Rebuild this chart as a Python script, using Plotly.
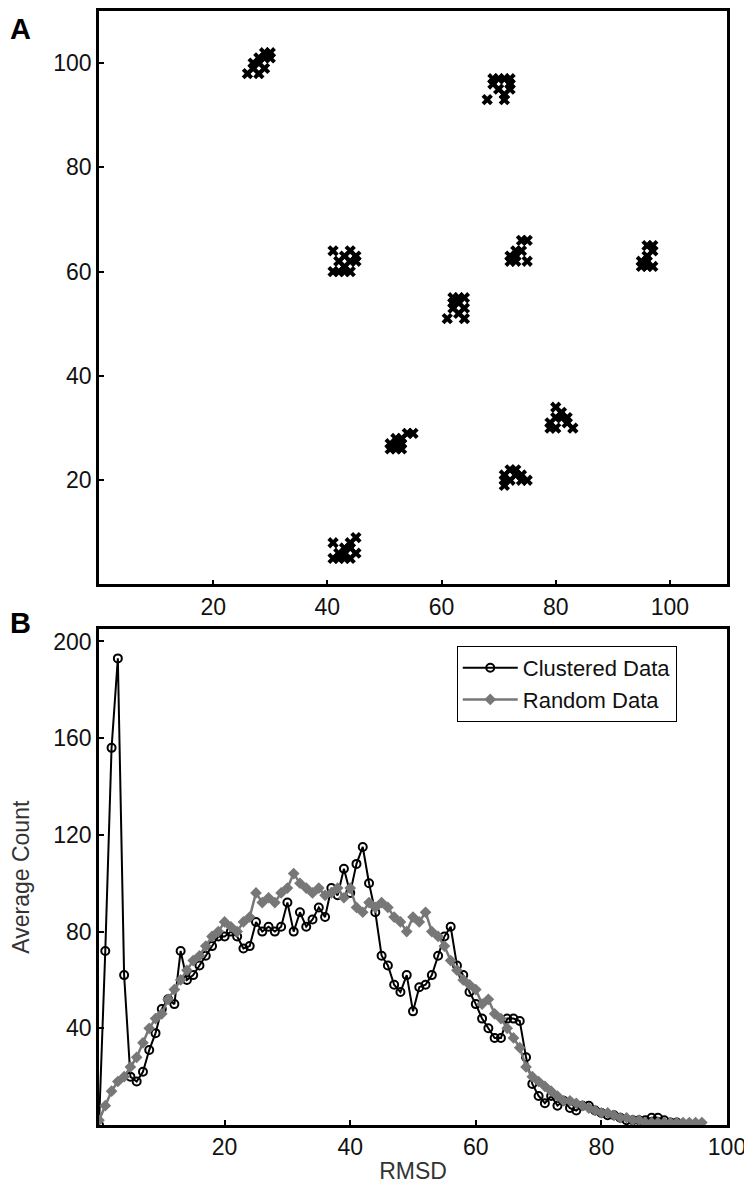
import plotly.graph_objects as go

# ---------------- Panel A data: clustered points ----------------
cluster_x = [
    26, 27, 28, 28, 29, 28, 29, 30, 29, 27, 30,
    68, 69, 70, 71, 72, 70, 71, 72, 69, 71, 72,
    41, 41, 42, 43, 43, 44, 44, 45, 45, 42, 44, 43,
    72, 72, 73, 73, 74, 75, 75, 73, 74,
    95, 96, 96, 97, 96, 97, 96, 97, 95,
    61, 62, 62, 63, 63, 64, 64, 64, 63, 62,
    79, 79, 80, 80, 81, 81, 82, 83, 80, 82,
    51, 51, 52, 52, 53, 53, 54, 55, 53, 52,
    71, 71, 72, 72, 73, 74, 74, 75, 73, 71,
    41, 41, 42, 42, 43, 43, 44, 44, 45, 45, 44, 43,
]
cluster_y = [
    98, 99, 98, 100, 101, 101, 102, 102, 99, 100, 101,
    93, 96, 97, 97, 96, 95, 94, 97, 97, 93, 95,
    64, 60, 60, 61, 63, 62, 64, 63, 62, 62, 60, 60,
    62, 63, 64, 62, 66, 66, 62, 63, 64,
    61, 61, 62, 65, 65, 64, 63, 61, 62,
    51, 54, 55, 55, 54, 55, 53, 51, 52, 53,
    30, 31, 32, 34, 32, 33, 31, 30, 30, 32,
    26, 27, 28, 26, 26, 28, 29, 29, 27, 27,
    19, 21, 22, 20, 21, 20, 21, 20, 22, 20,
    5, 8, 6, 5, 7, 6, 7, 8, 9, 6, 5, 5,
]

# ---------------- Panel B data ----------------
clustered_x = list(range(0, 93))
clustered_y = [
    0, 72, 156, 193, 62, 20, 18, 22, 31, 38,
    48, 52, 50, 72, 60, 62, 66, 70, 74, 78,
    78, 80, 78, 73, 74, 84, 80, 82, 80, 82,
    92, 80, 88, 82, 85, 90, 86, 98, 95, 106,
    96, 108, 115, 100, 88, 70, 66, 58, 55, 62,
    47, 57, 58, 62, 70, 78, 82, 66, 62, 55,
    50, 44, 40, 36, 36, 44, 44, 43, 28, 17,
    12, 9, 12, 8, 10, 7, 6, 8, 8, 6,
    5, 4, 4, 3, 2, 2, 2, 2, 3, 3,
    2, 1, 1,
]
random_x = list(range(0, 97))
random_y = [
    2, 8, 14, 18, 20, 24, 28, 34, 40, 44,
    46, 52, 56, 60, 64, 68, 70, 74, 78, 80,
    84, 82, 80, 84, 86, 96, 92, 94, 92, 96,
    98, 104, 100, 98, 96, 98, 95, 96, 98, 94,
    98, 90, 88, 92, 90, 92, 90, 86, 84, 80,
    86, 84, 88, 80, 78, 74, 68, 64, 60, 58,
    56, 50, 52, 46, 44, 40, 36, 32, 24, 20,
    18, 16, 14, 12, 10, 10, 9, 8, 7, 6,
    5, 5, 4, 3, 3, 2, 2, 1, 1, 1,
    1, 1, 1, 1, 1, 1, 1,
]

tickvals_a = [20, 40, 60, 80, 100]
tickvals_bx = [20, 40, 60, 80, 100]
tickvals_by = [40, 80, 120, 160, 200]

FONT = "Liberation Sans, Arial, sans-serif"

fig = go.Figure()

fig.add_trace(go.Scatter(
    x=cluster_x, y=cluster_y, mode="markers",
    marker=dict(symbol="x", size=10, color="black", line=dict(width=0)),
    xaxis="x", yaxis="y", showlegend=False,
))

fig.add_trace(go.Scatter(
    x=clustered_x, y=clustered_y, mode="lines+markers", name="Clustered Data",
    line=dict(color="black", width=2),
    marker=dict(symbol="circle-open", size=8, color="black", line=dict(width=2)),
    xaxis="x2", yaxis="y2",
))
fig.add_trace(go.Scatter(
    x=random_x, y=random_y, mode="lines+markers", name="Random Data",
    line=dict(color="#777777", width=2.5),
    marker=dict(symbol="diamond", size=9, color="#777777"),
    xaxis="x2", yaxis="y2",
))

axis_common = dict(
    showline=True, linecolor="black", linewidth=2.5, mirror=True,
    ticks="inside", ticklen=5, tickwidth=2, tickcolor="black",
    showgrid=False, zeroline=False,
    tickfont=dict(family=FONT, size=23, color="#111"),
)

# page has an 8px body margin: figure sized/placed to compensate
fig.update_layout(
    width=744, height=1191,
    margin=dict(l=91, r=25, t=0, b=74),
    paper_bgcolor="white", plot_bgcolor="white",
    font=dict(family=FONT, color="#111"),
    xaxis=dict(domain=[0, 1], range=[0, 110], tickvals=tickvals_a, anchor="y", **axis_common),
    yaxis=dict(domain=[0.4852, 1], range=[0, 110], tickvals=tickvals_a, anchor="x", **axis_common),
    xaxis2=dict(domain=[0, 1], range=[0, 100], tickvals=tickvals_bx, anchor="y2",
                title=dict(text="RMSD", font=dict(family=FONT, size=23, color="#333"), standoff=4),
                **axis_common),
    yaxis2=dict(domain=[0, 0.4449], range=[0, 205], tickvals=tickvals_by, anchor="x2",
                title=dict(text="Average Count", font=dict(family=FONT, size=23, color="#333"), standoff=18),
                **axis_common),
    legend=dict(
        x=0.92, xanchor="right", y=0.43, yanchor="top",
        bordercolor="black", borderwidth=1, bgcolor="white",
        font=dict(family=FONT, size=22, color="#111"),
        tracegroupgap=0, itemwidth=55,
    ),
    annotations=[
        dict(text="<b>A</b>", x=0, y=1.0, xref="paper", yref="paper", xshift=-91, yshift=0,
             xanchor="left", yanchor="top", showarrow=False, font=dict(family=FONT, size=29, color="black")),
        dict(text="<b>B</b>", x=0, y=0.4449, xref="paper", yref="paper", xshift=-91, yshift=24,
             xanchor="left", yanchor="top", showarrow=False, font=dict(family=FONT, size=29, color="black")),
    ],
)

fig.write_html("out.html")
